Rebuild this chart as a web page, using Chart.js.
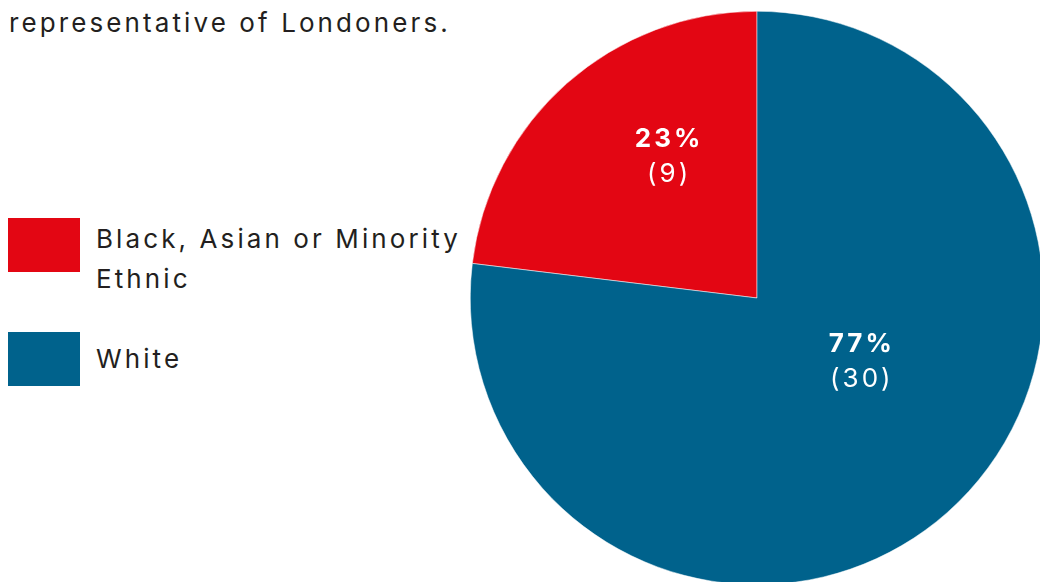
<!DOCTYPE html>
<html>
<head>
<meta charset="utf-8">
<script src="https://cdn.jsdelivr.net/npm/chart.js@4"></script>
<style>
  html, body { margin:0; padding:0; width:1040px; height:582px; overflow:hidden; background:#fff; }
  body { position:relative; font-family:Inter, "Liberation Sans", Arial, sans-serif; color:#231f20; }
  #title { position:absolute; left:9px; top:3px; font-size:26px; line-height:40px; letter-spacing:3.1px; white-space:nowrap; }
  .sw { position:absolute; left:8px; width:72px; height:54px; }
  .lt { position:absolute; left:96px; font-size:26px; line-height:40px; letter-spacing:3.1px; white-space:nowrap; }
  #wrap { position:absolute; left:470px; top:11px; width:574px; height:574px; }
</style>
</head>
<body>
<div id="title">representative of Londoners.</div>
<div id="legend"></div>
<div id="wrap"><canvas id="c" width="574" height="574"></canvas></div>
<script>
const categories = ["Black, Asian or Minority Ethnic", "White"];
const legendLines = [["Black, Asian or Minority", "Ethnic"], ["White"]];
const counts = [9, 30];
const percentLabels = ["23%", "77%"];
const colors = ["#E30613", "#00628C"];

const total = counts.reduce((a,b)=>a+b,0);

// HTML legend
const swatchTops = [218, 332];
const textTops = [219, 339];
const legend = document.getElementById('legend');
categories.forEach((c,i)=>{
  const s = document.createElement('div');
  s.className = 'sw';
  s.style.top = swatchTops[i] + 'px';
  s.style.background = colors[i];
  legend.appendChild(s);
  const t = document.createElement('div');
  t.className = 'lt';
  t.style.top = textTops[i] + 'px';
  t.innerHTML = legendLines[i].join('<br>');
  legend.appendChild(t);
});

const labelPlugin = {
  id: 'sliceLabels',
  afterDatasetsDraw(chart, args, opts) {
    const ctx = chart.ctx;
    const meta = chart.getDatasetMeta(0);
    meta.data.forEach((arc, i) => {
      const p = opts.place[i];
      const mid = (arc.startAngle + arc.endAngle) / 2 + p.da * Math.PI/180;
      const r = arc.outerRadius * p.rf;
      const x = arc.x + Math.cos(mid) * r;
      const y = arc.y + Math.sin(mid) * r;
      ctx.save();
      ctx.fillStyle = '#fff';
      ctx.textAlign = 'center';
      ctx.textBaseline = 'alphabetic';
      ctx.letterSpacing = '3px';
      ctx.font = 'bold 26px Inter, "Liberation Sans", Arial, sans-serif';
      ctx.fillText(percentLabels[i], x + 1.5, y - 17.5 + 9.5);
      ctx.font = '26px Inter, "Liberation Sans", Arial, sans-serif';
      ctx.fillText('(' + counts[i] + ')', x + 1.5, y + 17.5 + 9.5);
      ctx.restore();
    });
  }
};

new Chart(document.getElementById('c'), {
  type: 'pie',
  data: {
    labels: categories,
    datasets: [{
      data: counts,
      backgroundColor: colors,
      borderColor: '#ffffff',
      borderWidth: 0.5,
      hoverOffset: 0
    }]
  },
  options: {
    responsive: false,
    animation: false,
    rotation: -(counts[0] / total) * 360,
    layout: { padding: 0 },
    plugins: {
      legend: { display: false },
      tooltip: { enabled: false },
      sliceLabels: { place: [ { da: 9.6, rf: 0.589 }, { da: -17.3, rf: 0.421 } ] }
    }
  },
  plugins: [labelPlugin]
});
</script>
</body>
</html>
